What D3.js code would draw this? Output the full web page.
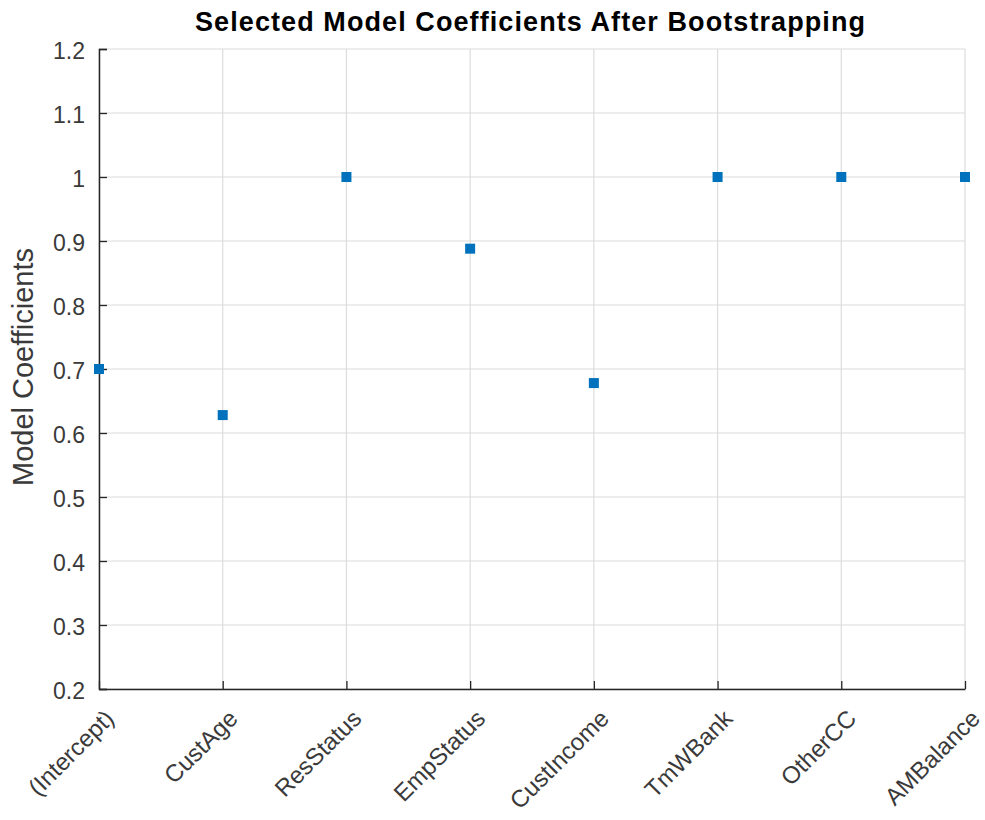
<!DOCTYPE html>
<html><head><meta charset="utf-8">
<script src="https://cdn.jsdelivr.net/npm/d3@7"></script>
<style>body{margin:0;background:#fff;} svg{display:block;font-family:"Liberation Sans",Arial,sans-serif;}</style>
</head><body>
<svg id="c" width="985" height="820"></svg>
<script>
const categories = ["(Intercept)","CustAge","ResStatus","EmpStatus","CustIncome","TmWBank","OtherCC","AMBalance"];
const coefficients = [0.70, 0.628, 1.0, 0.888, 0.678, 1.0, 1.0, 1.0];
const yTicks = [0.2,0.3,0.4,0.5,0.6,0.7,0.8,0.9,1.0,1.1,1.2];
const titleText = "Selected Model Coefficients After Bootstrapping";
const yLabel = "Model Coefficients";

const svg = d3.select("#c");
const L = 99, R = 965, T = 49, B = 689;
const x = d3.scalePoint().domain(categories).range([L, R]);
const y = d3.scaleLinear().domain([0.2, 1.2]).range([B, T]);
const axisColor = "#262626";
const tickFont = 23;

// grid
svg.append("g").selectAll("line.hg").data(yTicks).join("line")
  .attr("x1", L).attr("x2", R).attr("y1", d => y(d)).attr("y2", d => y(d))
  .attr("stroke", "#dcdcdc").attr("stroke-width", 1.2);
svg.append("g").selectAll("line.vg").data(categories).join("line")
  .attr("y1", T).attr("y2", B).attr("x1", d => x(d)).attr("x2", d => x(d))
  .attr("stroke", "#dcdcdc").attr("stroke-width", 1.2);

// y axis
const ya = svg.append("g").attr("transform", `translate(${L},0)`)
  .call(d3.axisLeft(y).tickValues(yTicks).tickSize(-8).tickPadding(14)
    .tickFormat(d => d3.format("~g")(+d.toFixed(1))));
ya.select(".domain").attr("stroke", axisColor).attr("stroke-width", 1.5);
ya.selectAll(".tick line").attr("stroke", axisColor).attr("stroke-width", 1.3);
ya.selectAll(".tick text").attr("fill", "#3a3a3a").attr("font-size", tickFont)
  .attr("font-family", "Liberation Sans, Arial, sans-serif").attr("dy", "0.40em");

// x axis
const xa = svg.append("g").attr("transform", `translate(0,${B})`)
  .call(d3.axisBottom(x).tickSize(-8).tickSizeOuter(0));
xa.select(".domain").attr("stroke", axisColor).attr("stroke-width", 1.5);
xa.selectAll(".tick line").attr("stroke", axisColor).attr("stroke-width", 1.3);
xa.selectAll(".tick text").attr("fill", "#3a3a3a").attr("font-size", 24)
  .attr("font-family", "Liberation Sans, Arial, sans-serif")
  .attr("text-anchor", "end").attr("dy", null).attr("y", 0)
  .attr("transform", "translate(16,31) rotate(-45)");

// points
svg.append("g").selectAll("rect").data(categories.map((c, i) => ({c, v: coefficients[i]}))).join("rect")
  .attr("x", d => x(d.c) - 5).attr("y", d => y(d.v) - 5)
  .attr("width", 10).attr("height", 10).attr("fill", "#0072BD");

// title
svg.append("text").attr("x", 530).attr("y", 31).attr("text-anchor", "middle")
  .attr("font-size", 27).attr("font-weight", "bold").attr("fill", "#000")
  .attr("textLength", 670).attr("lengthAdjust", "spacing").text(titleText);

// y label
svg.append("text").attr("transform", `translate(33,${(T + B) / 2 - 2}) rotate(-90)`)
  .attr("text-anchor", "middle").attr("font-size", 29).attr("fill", "#3a3a3a").text(yLabel);
</script>
</body></html>
